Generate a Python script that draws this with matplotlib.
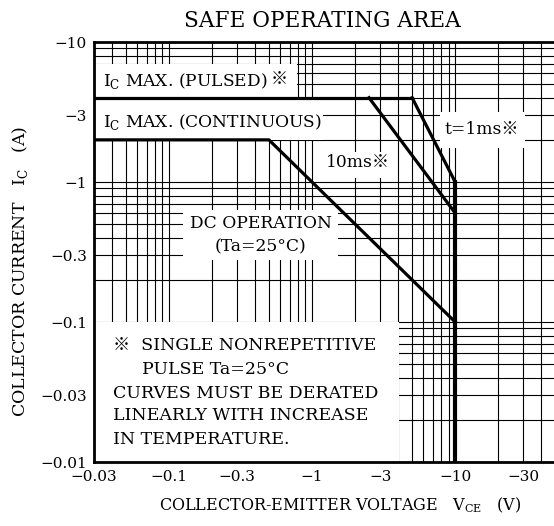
import matplotlib
matplotlib.use("Agg")
import matplotlib.pyplot as plt
from matplotlib.patches import Rectangle
from matplotlib.ticker import LogLocator, FixedLocator, NullFormatter

plt.rcParams['font.family'] = ['DejaVu Serif', 'Noto Sans CJK JP']
plt.rcParams['mathtext.fontset'] = 'custom'
plt.rcParams['mathtext.rm'] = 'DejaVu Serif'

# SOA boundary segments (magnitudes, PNP device so labels are negative)
v_pulsed = [0.03, 5]
i_pulsed = [4, 4]
v_1ms = [5, 10]
i_1ms = [4, 1]
v_10ms = [2.5, 10]
i_10ms = [4, 0.6]
v_dc = [0.03, 0.5, 10]
i_dc = [2, 2, 0.1]
v_vceo = [10, 10]
i_vceo = [1, 0.01]

x_ticks = [0.03, 0.1, 0.3, 1, 3, 10, 30]
x_labels = ['−0.03', '−0.1', '−0.3', '−1', '−3', '−10', '−30']
y_ticks = [0.01, 0.03, 0.1, 0.3, 1, 3, 10]
y_labels = ['−0.01', '−0.03', '−0.1', '−0.3', '−1', '−3', '−10']

fig = plt.figure(figsize=(5.54, 5.26), dpi=100)
ax = fig.add_axes([94/554, 64/526, 460/554, 420/526])
ax.set_xscale('log')
ax.set_yscale('log')
ax.set_xlim(0.03, 49)
ax.set_ylim(0.01, 10)

ax.xaxis.set_major_locator(FixedLocator(x_ticks))
ax.set_xticklabels(x_labels)
ax.yaxis.set_major_locator(FixedLocator(y_ticks))
ax.set_yticklabels(y_labels)
ax.xaxis.set_minor_locator(LogLocator(base=10, subs=range(2, 10), numticks=20))
ax.yaxis.set_minor_locator(LogLocator(base=10, subs=range(2, 10), numticks=20))
ax.xaxis.set_minor_formatter(NullFormatter())
ax.yaxis.set_minor_formatter(NullFormatter())
ax.tick_params(which='both', length=0, labelsize=11)
ax.tick_params(axis='x', pad=5.5)
ax.tick_params(axis='y', pad=5)

ax.set_axisbelow(True)
ax.grid(which='both', color='black', lw=0.8)
for s in ['left', 'bottom', 'top']:
    ax.spines[s].set_linewidth(2)
ax.spines['right'].set_visible(False)

# white label areas covering the grid
boxes = [
    (0.0, 0.869, 0.441, 0.079),
    (0.0, 0.767, 0.498, 0.095),
    (0.752, 0.748, 0.185, 0.085),
    (0.491, 0.676, 0.152, 0.062),
    (0.193, 0.481, 0.337, 0.119),
    (0.0, 0.0, 0.663, 0.333),
]
for bx, by, bw, bh in boxes:
    ax.add_patch(Rectangle((bx, by), bw, bh, transform=ax.transAxes,
                           facecolor='white', edgecolor='none', zorder=1))

lw = 2.3
ax.plot(v_pulsed, i_pulsed, color='black', lw=lw, zorder=2)
ax.plot(v_1ms, i_1ms, color='black', lw=lw, zorder=2)
ax.plot(v_10ms, i_10ms, color='black', lw=lw, zorder=2)
ax.plot(v_dc, i_dc, color='black', lw=lw, zorder=2)
ax.plot(v_vceo, i_vceo, color='black', lw=3, zorder=2)

def px(x, y):
    return ((x - 94) / 460, (462 - y) / 420)

fs = 12.3
ax.text(*px(103, 81), r'I$_\mathrm{C}$ MAX. (PULSED)', transform=ax.transAxes,
        fontsize=fs, va='center', zorder=3)
ax.text(*px(279, 80), '※', transform=ax.transAxes,
        fontsize=fs, va='center', ha='center', zorder=3)
ax.text(*px(103, 122), r'I$_\mathrm{C}$ MAX. (CONTINUOUS)', transform=ax.transAxes,
        fontsize=fs, va='center', zorder=3)
ax.text(*px(444, 130), 't=1ms※', transform=ax.transAxes,
        fontsize=fs, va='center', zorder=3)
ax.text(*px(326, 163), '10ms※', transform=ax.transAxes,
        fontsize=fs, va='center', zorder=3)
ax.text(*px(261, 223), 'DC OPERATION', transform=ax.transAxes,
        fontsize=fs, va='center', ha='center', zorder=3)
ax.text(*px(261, 247), '(Ta=25°C)', transform=ax.transAxes,
        fontsize=fs, va='center', ha='center', zorder=3)

note = [
    (113, 345, '※  SINGLE NONREPETITIVE'),
    (142, 370, 'PULSE Ta=25°C'),
    (113, 393, 'CURVES MUST BE DERATED'),
    (113, 416, 'LINEARLY WITH INCREASE'),
    (113, 440, 'IN TEMPERATURE.'),
]
for nx, ny, t in note:
    ax.text(*px(nx, ny), t, transform=ax.transAxes, fontsize=12.5,
            va='center', zorder=3)

fig.text(322/554, 1 - 21/526, 'SAFE OPERATING AREA', fontsize=15.6,
         ha='center', va='center')
fig.text(340/554, 1 - 505/526, r'COLLECTOR-EMITTER VOLTAGE   V$_\mathrm{CE}$   (V)',
         fontsize=11.5, ha='center', va='center')
fig.text(20/554, 1 - 271/526, r'COLLECTOR CURRENT   I$_\mathrm{C}$   (A)',
         fontsize=12.5, ha='center', va='center', rotation=90)

fig.savefig('out.png', dpi=100)
